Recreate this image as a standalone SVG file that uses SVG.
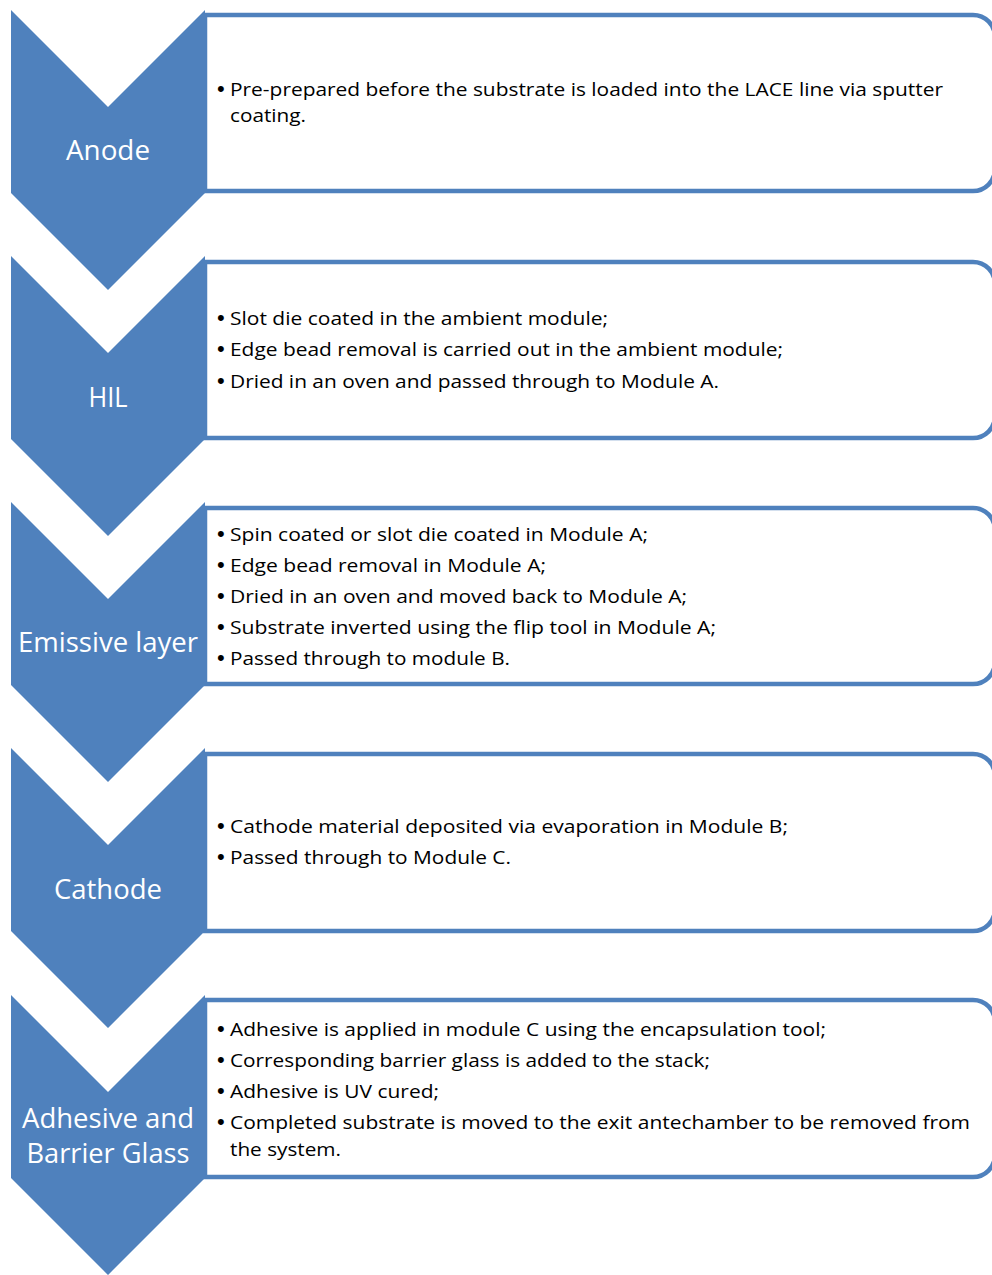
<svg xmlns="http://www.w3.org/2000/svg" width="992" height="1275" viewBox="0 0 992 1275">
<style>
.box{fill:#ffffff;stroke:#4f81bd;stroke-width:4.5}
.chev{fill:#4f81bd}
.lbl{font-family:"Open Sans","Liberation Sans",sans-serif;font-size:28px;fill:#ffffff;text-anchor:middle}
.t{font-family:"Open Sans","Liberation Sans",sans-serif;font-size:18px;fill:#000000}
.b{font-family:"Liberation Sans",sans-serif;font-size:22px;fill:#000000}
</style>
<rect width="992" height="1275" fill="#ffffff"/>
<g id="connectors"/>
<g id="step1">
<path class="box" d="M205,15 H973 A22,22 0 0 1 995,37 V169 A22,22 0 0 1 973,191 H205 Z"/>
<path class="chev" d="M11,10 L108,107 L205,10 L205,193 L108,290 L11,193 Z"/>
<text class="lbl" x="108" y="160" textLength="84" lengthAdjust="spacingAndGlyphs">Anode</text>
<text class="b" x="217" y="96">•</text>
<text class="t" x="230" y="96" textLength="713" lengthAdjust="spacingAndGlyphs">Pre-prepared before the substrate is loaded into the LACE line via sputter</text>
<text class="t" x="230" y="122" textLength="76" lengthAdjust="spacingAndGlyphs">coating.</text>
</g>
<g id="step2">
<path class="box" d="M205,262 H973 A22,22 0 0 1 995,284 V416 A22,22 0 0 1 973,438 H205 Z"/>
<path class="chev" d="M11,256 L108,353 L205,256 L205,439 L108,536 L11,439 Z"/>
<text class="lbl" x="108" y="407" textLength="39" lengthAdjust="spacingAndGlyphs">HIL</text>
<text class="b" x="217" y="325">•</text>
<text class="t" x="230" y="325" textLength="378" lengthAdjust="spacingAndGlyphs">Slot die coated in the ambient module;</text>
<text class="b" x="217" y="356">•</text>
<text class="t" x="230" y="356" textLength="553" lengthAdjust="spacingAndGlyphs">Edge bead removal is carried out in the ambient module;</text>
<text class="b" x="217" y="388">•</text>
<text class="t" x="230" y="388" textLength="489" lengthAdjust="spacingAndGlyphs">Dried in an oven and passed through to Module A.</text>
</g>
<g id="step3">
<path class="box" d="M205,508 H973 A22,22 0 0 1 995,530 V662 A22,22 0 0 1 973,684 H205 Z"/>
<path class="chev" d="M11,502 L108,599 L205,502 L205,685 L108,782 L11,685 Z"/>
<text class="lbl" x="108" y="652" textLength="180" lengthAdjust="spacingAndGlyphs">Emissive layer</text>
<text class="b" x="217" y="541">•</text>
<text class="t" x="230" y="541" textLength="418" lengthAdjust="spacingAndGlyphs">Spin coated or slot die coated in Module A;</text>
<text class="b" x="217" y="572">•</text>
<text class="t" x="230" y="572" textLength="316" lengthAdjust="spacingAndGlyphs">Edge bead removal in Module A;</text>
<text class="b" x="217" y="603">•</text>
<text class="t" x="230" y="603" textLength="457" lengthAdjust="spacingAndGlyphs">Dried in an oven and moved back to Module A;</text>
<text class="b" x="217" y="634">•</text>
<text class="t" x="230" y="634" textLength="486" lengthAdjust="spacingAndGlyphs">Substrate inverted using the flip tool in Module A;</text>
<text class="b" x="217" y="665">•</text>
<text class="t" x="230" y="665" textLength="280" lengthAdjust="spacingAndGlyphs">Passed through to module B.</text>
</g>
<g id="step4">
<path class="box" d="M205,754 H973 A22,22 0 0 1 995,776 V909 A22,22 0 0 1 973,931 H205 Z"/>
<path class="chev" d="M11,748 L108,845 L205,748 L205,931 L108,1028 L11,931 Z"/>
<text class="lbl" x="108" y="899" textLength="108" lengthAdjust="spacingAndGlyphs">Cathode</text>
<text class="b" x="217" y="833">•</text>
<text class="t" x="230" y="833" textLength="558" lengthAdjust="spacingAndGlyphs">Cathode material deposited via evaporation in Module B;</text>
<text class="b" x="217" y="864">•</text>
<text class="t" x="230" y="864" textLength="281" lengthAdjust="spacingAndGlyphs">Passed through to Module C.</text>
</g>
<g id="step5">
<path class="box" d="M205,1000 H973 A22,22 0 0 1 995,1022 V1155 A22,22 0 0 1 973,1177 H205 Z"/>
<path class="chev" d="M11,995 L108,1092 L205,995 L205,1178 L108,1275 L11,1178 Z"/>
<text class="lbl" x="108" y="1128" textLength="172" lengthAdjust="spacingAndGlyphs">Adhesive and</text>
<text class="lbl" x="108" y="1163" textLength="163" lengthAdjust="spacingAndGlyphs">Barrier Glass</text>
<text class="b" x="217" y="1036">•</text>
<text class="t" x="230" y="1036" textLength="596" lengthAdjust="spacingAndGlyphs">Adhesive is applied in module C using the encapsulation tool;</text>
<text class="b" x="217" y="1067">•</text>
<text class="t" x="230" y="1067" textLength="480" lengthAdjust="spacingAndGlyphs">Corresponding barrier glass is added to the stack;</text>
<text class="b" x="217" y="1098">•</text>
<text class="t" x="230" y="1098" textLength="209" lengthAdjust="spacingAndGlyphs">Adhesive is UV cured;</text>
<text class="b" x="217" y="1129">•</text>
<text class="t" x="230" y="1129" textLength="740" lengthAdjust="spacingAndGlyphs">Completed substrate is moved to the exit antechamber to be removed from</text>
<text class="t" x="230" y="1156" textLength="111" lengthAdjust="spacingAndGlyphs">the system.</text>
</g>
</svg>
